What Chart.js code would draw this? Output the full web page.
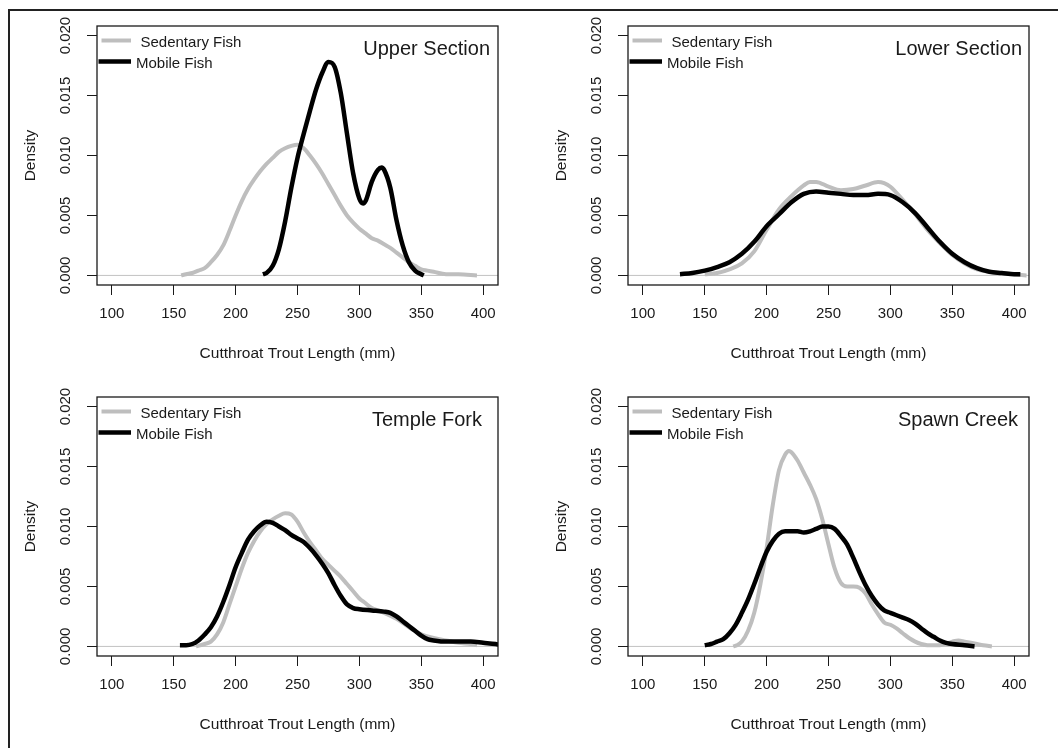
<!DOCTYPE html>
<html>
<head>
<meta charset="utf-8">
<title>Cutthroat Trout Length Density</title>
<script src="https://cdn.jsdelivr.net/npm/chart.js@4.4.1/dist/chart.umd.min.js"></script>
<style>
  html, body { margin: 0; padding: 0; background: #fff; }
  body { width: 1058px; height: 748px; position: relative; overflow: hidden; }
  .frame { position: absolute; left: 8px; top: 9px; width: 1100px; height: 800px; border-left: 2px solid #222; border-top: 2px solid #222; }
  .panel { position: absolute; width: 529px; height: 374px; }
</style>
</head>
<body>
<div class="frame"></div>
<div class="panel" style="left:0;top:0"><canvas id="chartUpper" width="529" height="374"></canvas></div>
<div class="panel" style="left:531px;top:0"><canvas id="chartLower" width="529" height="374"></canvas></div>
<div class="panel" style="left:0;top:371px"><canvas id="chartTemple" width="529" height="374"></canvas></div>
<div class="panel" style="left:531px;top:371px"><canvas id="chartSpawn" width="529" height="374"></canvas></div>
<script>
/* global Chart */
{
  'use strict';

  // DANE
  const xTicks = [100, 150, 200, 250, 300, 350, 400];
  const yTicks = [0, 0.005, 0.010, 0.015, 0.020];
  const seriesNames = ['Sedentary Fish', 'Mobile Fish'];
  const panelTitles = ['Upper Section', 'Lower Section', 'Temple Fork', 'Spawn Creek'];

  // Upper Section
  const upperSedLen = [156, 160, 165, 170, 175, 180, 185, 190, 195, 200, 205, 210, 215, 220, 225, 230, 235, 240, 245, 250,
    255, 260, 265, 270, 275, 280, 285, 290, 295, 300, 305, 310, 315, 320, 325, 330, 335, 340, 345, 350, 355, 360, 370, 380, 395];
  const upperSedDen = [0.0000, 0.0001, 0.0002, 0.0004, 0.0006, 0.0011, 0.0017, 0.0025, 0.0037, 0.0050, 0.0062, 0.0072, 0.0080,
    0.0087, 0.0093, 0.0098, 0.0103, 0.0106, 0.0108, 0.0109, 0.0106, 0.0100, 0.0093, 0.0085, 0.0076, 0.0067, 0.0058, 0.0050,
    0.0044, 0.0039, 0.0035, 0.0031, 0.0029, 0.0026, 0.0023, 0.0019, 0.0015, 0.0011, 0.0008, 0.0005, 0.0004, 0.0003, 0.0001,
    0.0001, 0.0000];
  const upperMobLen = [222, 225, 230, 235, 240, 245, 250, 255, 260, 265, 270, 275, 280, 285, 290, 295, 300, 303, 305, 310,
    315, 318, 320, 325, 330, 335, 340, 345, 350, 352];
  const upperMobDen = [0.0001, 0.0002, 0.0008, 0.0022, 0.0045, 0.0073, 0.0098, 0.0118, 0.0137, 0.0155, 0.0169, 0.0178,
    0.0174, 0.0152, 0.0118, 0.0085, 0.0064, 0.0060, 0.0062, 0.0078, 0.0088, 0.0090, 0.0088, 0.0073, 0.0046, 0.0025, 0.0011,
    0.0004, 0.0001, 0.0000];

  // Lower Section
  const lowerSedLen = [150, 160, 170, 180, 190, 200, 210, 220, 230, 235, 240, 250, 260, 270, 280, 290, 295, 300, 310, 320,
    330, 340, 350, 360, 370, 380, 390, 400, 410];
  const lowerSedDen = [0.0001, 0.0002, 0.0005, 0.0010, 0.0020, 0.0038, 0.0055, 0.0066, 0.0075, 0.0078, 0.0078, 0.0074,
    0.0071, 0.0072, 0.0075, 0.0078, 0.0077, 0.0074, 0.0063, 0.0051, 0.0038, 0.0027, 0.0017, 0.0010, 0.0005, 0.0003, 0.0002,
    0.0001, 0.0000];
  const lowerMobLen = [130, 140, 150, 160, 170, 180, 190, 200, 210, 220, 230, 240, 250, 260, 270, 280, 290, 300, 310, 320,
    330, 340, 350, 360, 370, 380, 390, 400, 405];
  const lowerMobDen = [0.0001, 0.0002, 0.0004, 0.0007, 0.0011, 0.0018, 0.0028, 0.0041, 0.0051, 0.0061, 0.0068, 0.0070,
    0.0069, 0.0068, 0.0067, 0.0067, 0.0068, 0.0067, 0.0061, 0.0052, 0.0040, 0.0028, 0.0018, 0.0011, 0.0006, 0.0003, 0.0002,
    0.0001, 0.0001];

  // Temple Fork
  const templeSedLen = [168, 175, 180, 185, 190, 195, 200, 205, 210, 215, 220, 225, 230, 235, 240, 245, 250, 255, 260, 265,
    270, 275, 280, 285, 290, 295, 300, 305, 310, 315, 320, 330, 340, 350, 360, 370, 380, 390, 395];
  const templeSedDen = [0.0000, 0.0002, 0.0004, 0.0010, 0.0020, 0.0035, 0.0050, 0.0065, 0.0078, 0.0088, 0.0096, 0.0102,
    0.0106, 0.0109, 0.0111, 0.0110, 0.0104, 0.0095, 0.0087, 0.0080, 0.0073, 0.0068, 0.0063, 0.0058, 0.0052, 0.0046, 0.0040,
    0.0036, 0.0032, 0.0030, 0.0028, 0.0023, 0.0016, 0.0010, 0.0007, 0.0005, 0.0003, 0.0002, 0.0001];
  const templeMobLen = [155, 160, 165, 170, 175, 180, 185, 190, 195, 200, 205, 210, 215, 220, 225, 230, 235, 240, 245, 250,
    255, 260, 265, 270, 275, 280, 285, 290, 295, 300, 310, 320, 325, 330, 335, 340, 345, 350, 355, 360, 370, 380, 390, 400,
    410, 415];
  const templeMobDen = [0.0001, 0.0001, 0.0002, 0.0005, 0.0010, 0.0016, 0.0025, 0.0037, 0.0051, 0.0066, 0.0078, 0.0089,
    0.0096, 0.0101, 0.0104, 0.0103, 0.0100, 0.0097, 0.0093, 0.0090, 0.0087, 0.0082, 0.0076, 0.0069, 0.0061, 0.0051, 0.0042,
    0.0035, 0.0032, 0.0031, 0.0030, 0.0029, 0.0028, 0.0025, 0.0021, 0.0017, 0.0013, 0.0009, 0.0006, 0.0005, 0.0004, 0.0004,
    0.0004, 0.0003, 0.0002, 0.0001];

  // Spawn Creek
  const spawnSedLen = [173, 176, 180, 185, 190, 195, 200, 205, 210, 215, 218, 220, 225, 230, 235, 240, 245, 250, 255, 260,
    265, 270, 275, 280, 285, 290, 295, 300, 305, 310, 315, 320, 325, 330, 340, 350, 355, 360, 365, 370, 375, 382];
  const spawnSedDen = [0.0000, 0.0001, 0.0004, 0.0013, 0.0028, 0.0052, 0.0082, 0.0118, 0.0147, 0.0160, 0.0163, 0.0162,
    0.0155, 0.0145, 0.0135, 0.0123, 0.0106, 0.0085, 0.0065, 0.0053, 0.0050, 0.0050, 0.0049, 0.0044, 0.0035, 0.0027, 0.0020,
    0.0018, 0.0015, 0.0011, 0.0007, 0.0004, 0.0002, 0.0001, 0.0001, 0.0004, 0.0005, 0.0004, 0.0003, 0.0002, 0.0001, 0.0000];
  const spawnMobLen = [150, 155, 160, 165, 170, 175, 180, 185, 190, 195, 200, 205, 210, 215, 220, 225, 230, 235, 240, 245,
    250, 255, 260, 265, 270, 275, 280, 285, 290, 295, 300, 305, 310, 315, 320, 325, 330, 335, 340, 345, 350, 360, 368];
  const spawnMobDen = [0.0001, 0.0002, 0.0004, 0.0006, 0.0011, 0.0018, 0.0028, 0.0039, 0.0052, 0.0066, 0.0079, 0.0088,
    0.0094, 0.0096, 0.0096, 0.0096, 0.0095, 0.0096, 0.0098, 0.0100, 0.0100, 0.0098, 0.0092, 0.0085, 0.0074, 0.0062, 0.0051,
    0.0042, 0.0035, 0.0030, 0.0028, 0.0026, 0.0024, 0.0022, 0.0019, 0.0015, 0.0011, 0.0008, 0.0005, 0.0003, 0.0002, 0.0001,
    0.0000];

  // USTAWIENIA
  const fontFamily = '"Liberation Sans", Arial, sans-serif';
  const inkColor = '#1a1a1a';
  const sedColor = '#bebebe';
  const mobColor = '#000000';

  const panels = [
    {canvas: 'chartUpper', sed: [upperSedLen, upperSedDen], mob: [upperMobLen, upperMobDen], titleInset: 8},
    {canvas: 'chartLower', sed: [lowerSedLen, lowerSedDen], mob: [lowerMobLen, lowerMobDen], titleInset: 7},
    {canvas: 'chartTemple', sed: [templeSedLen, templeSedDen], mob: [templeMobLen, templeMobDen], titleInset: 16},
    {canvas: 'chartSpawn', sed: [spawnSedLen, spawnSedDen], mob: [spawnMobLen, spawnMobDen], titleInset: 11},
  ];

  function toPoints(lens, dens) {
    return lens.map(function (x, i) {
      return {x: x, y: dens[i]};
    });
  }

  // box wokol wykresu + linia zero
  const frameBox = {
    id: 'frameBox',
    beforeDatasetsDraw(chart) {
      const {ctx, chartArea: a, scales} = chart;
      const y0 = scales.y.getPixelForValue(0);
      ctx.save();
      ctx.strokeStyle = '#c2c2c2';
      ctx.lineWidth = 1;
      ctx.beginPath();
      ctx.moveTo(a.left, y0);
      ctx.lineTo(a.right, y0);
      ctx.stroke();
      ctx.restore();
    },
    afterDatasetsDraw(chart) {
      const {ctx, chartArea: a} = chart;
      ctx.save();
      ctx.strokeStyle = inkColor;
      ctx.lineWidth = 1.3;
      ctx.strokeRect(a.left, a.top, a.right - a.left, a.bottom - a.top);
      ctx.restore();
    }
  };

  // legenda w lewym gornym rogu + nazwa odcinka w prawym
  const cornerLabels = {
    id: 'cornerLabels',
    afterDraw(chart, args, opts) {
      const {ctx, chartArea: a} = chart;
      ctx.save();
      chart.data.datasets.forEach(function (ds, i) {
        const rowY = a.top + opts.rows[i];
        ctx.strokeStyle = ds.borderColor;
        ctx.lineWidth = ds.borderWidth;
        ctx.lineCap = 'butt';
        ctx.beginPath();
        ctx.moveTo(a.left + opts.lineStart[i], rowY);
        ctx.lineTo(a.left + 34, rowY);
        ctx.stroke();
        ctx.fillStyle = inkColor;
        ctx.font = '15px ' + fontFamily;
        ctx.textAlign = 'left';
        ctx.textBaseline = 'alphabetic';
        ctx.fillText(ds.label, a.left + opts.textX[i], rowY + 6);
      });
      ctx.font = '20px ' + fontFamily;
      ctx.textAlign = 'right';
      ctx.fillText(opts.title, a.right - opts.titleInset, a.top + 29);
      ctx.restore();
    }
  };

  panels.forEach(function (panel, idx) {
    const ctx = document.getElementById(panel.canvas).getContext('2d');

    new Chart(ctx, {
      type: 'line',
      data: {
        datasets: [{
          label: seriesNames[0],
          data: toPoints(panel.sed[0], panel.sed[1]),
          borderColor: sedColor,
          borderWidth: 4,
          order: 1,
        },
        {
          label: seriesNames[1],
          data: toPoints(panel.mob[0], panel.mob[1]),
          borderColor: mobColor,
          borderWidth: 4.5,
          order: 0,
        }]
      },
      options: {
        responsive: false,
        animation: false,
        layout: {padding: {left: 0, top: 26, right: 31, bottom: 0}},
        elements: {
          point: {radius: 0},
          line: {cubicInterpolationMode: 'monotone', borderJoinStyle: 'round'},
        },
        plugins: {
          legend: {display: false},
          tooltip: {enabled: false},
          cornerLabels: {
            title: panelTitles[idx],
            titleInset: panel.titleInset,
            rows: [14.5, 35.5],
            lineStart: [4.5, 1.5],
            textX: [43.5, 39],
          },
        },
        scales: {
          x: {
            type: 'linear',
            min: 88,
            max: 412,
            afterBuildTicks: function (s) {
              s.ticks = xTicks.map(function (v) { return {value: v}; });
            },
            afterFit: function (s) { s.height = 89; },
            grid: {drawOnChartArea: false, drawTicks: true, tickLength: 10, color: inkColor, lineWidth: 1},
            border: {display: false},
            ticks: {color: inkColor, font: {family: fontFamily, size: 15}, padding: 10, maxRotation: 0},
            title: {
              display: true,
              text: 'Cutthroat Trout Length (mm)',
              color: inkColor,
              font: {family: fontFamily, size: 15.5},
              padding: {top: 0, bottom: 11},
            },
          },
          y: {
            type: 'linear',
            min: -0.0008,
            max: 0.0208,
            afterBuildTicks: function (s) {
              s.ticks = yTicks.map(function (v) { return {value: v}; });
            },
            afterFit: function (s) { s.width = 97; },
            grid: {drawOnChartArea: false, drawTicks: true, tickLength: 10, color: inkColor, lineWidth: 1},
            border: {display: false},
            ticks: {
              color: inkColor,
              font: {family: fontFamily, size: 15},
              padding: 2,
              minRotation: 90,
              maxRotation: 90,
              crossAlign: 'center',
              callback: function (v) { return v.toFixed(3); },
            },
            title: {
              display: true,
              text: 'Density',
              color: inkColor,
              font: {family: fontFamily, size: 15.5},
              padding: {top: 21, bottom: 0},
            },
          },
        },
      },
      plugins: [frameBox, cornerLabels],
    });
  });
}
</script>
</body>
</html>
